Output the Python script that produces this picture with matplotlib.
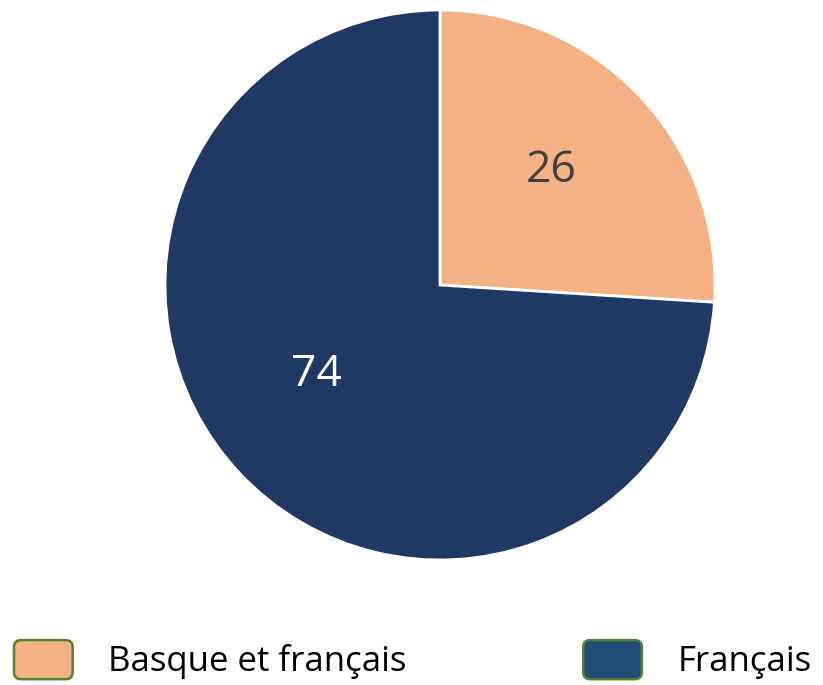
import numpy as np
import matplotlib.pyplot as plt
from matplotlib.patches import Patch, FancyBboxPatch
from matplotlib.legend_handler import HandlerPatch

labels = ["Basque et français", "Français"]
values = [26, 74]
slice_colors = ["#F4B183", "#203864"]
legend_colors = ["#F4B183", "#1F4E79"]
text_colors = ["#404040", "white"]

plt.rcParams['font.family'] = ['Open Sans', 'DejaVu Sans']


class RoundBox(HandlerPatch):
    def create_artists(self, legend, orig_handle, xdescent, ydescent,
                       width, height, fontsize, trans):
        p = FancyBboxPatch((-xdescent + 2, -ydescent + 2), width - 4, height - 4,
                           boxstyle="round,pad=0,rounding_size=5",
                           facecolor=orig_handle.get_facecolor(),
                           edgecolor="#548235", linewidth=1.8, transform=trans)
        return [p]


fig = plt.figure(figsize=(8.23, 6.85), dpi=100)
ax = fig.add_axes([165 / 823, 125 / 685, 550 / 823, 550 / 685])

wedges, texts, autotexts = ax.pie(
    values, colors=slice_colors, startangle=90, counterclock=False,
    radius=1, autopct=lambda p: "%d" % round(p), pctdistance=0.57,
    wedgeprops=dict(edgecolor="white", linewidth=2),
)
# position des étiquettes (angle en degrés, distance au centre) comme dans Excel
label_pos = [(46, 0.58), (216, 0.555)]
for t, c, (ang, d) in zip(autotexts, text_colors, label_pos):
    t.set_color(c)
    t.set_fontsize(32)
    t.set_position((d * np.cos(np.radians(ang)), d * np.sin(np.radians(ang))))
ax.set_xlim(-1.0, 1.0)
ax.set_ylim(-1.0, 1.0)
ax.set_aspect("equal")
ax.axis("off")

# Légende
handles = [Patch(facecolor=c) for c in legend_colors]
fig.legend(handles, labels, loc="center", bbox_to_anchor=(0.5, 0.037), ncol=2,
           frameon=False, fontsize=25, handlelength=1.85, handleheight=1.6,
           handletextpad=0.95, columnspacing=5.0,
           handler_map={Patch: RoundBox()})

plt.savefig("out.png", dpi=100)
